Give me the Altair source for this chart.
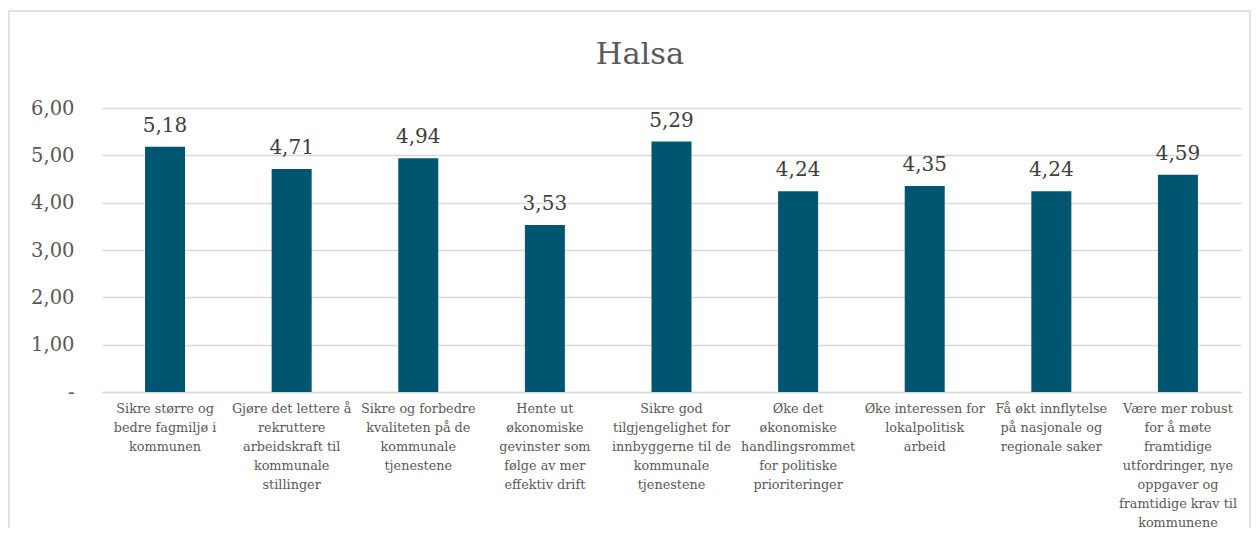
import altair as alt
import pandas as pd

title_text = "Halsa"
categories = [
    "Sikre større og|bedre fagmiljø i|kommunen",
    "Gjøre det lettere å|rekruttere|arbeidskraft til|kommunale|stillinger",
    "Sikre og forbedre|kvaliteten på de|kommunale|tjenestene",
    "Hente ut|økonomiske|gevinster som|følge av mer|effektiv drift",
    "Sikre god|tilgjengelighet for|innbyggerne til de|kommunale|tjenestene",
    "Øke det|økonomiske|handlingsrommet|for politiske|prioriteringer",
    "Øke interessen for|lokalpolitisk|arbeid",
    "Få økt innflytelse|på nasjonale og|regionale saker",
    "Være mer robust|for å møte|framtidige|utfordringer, nye|oppgaver og|framtidige krav til|kommunene",
]
values = [5.18, 4.71, 4.94, 3.53, 5.29, 4.24, 4.35, 4.24, 4.59]
value_labels = ["5,18", "4,71", "4,94", "3,53", "5,29", "4,24", "4,35", "4,24", "4,59"]

df = pd.DataFrame({"cat": categories, "val": values, "lab": value_labels})

FONT = "DejaVu Serif"
GRAY = "#595959"

x = alt.X("cat:N", sort=None, title=None,
          scale=alt.Scale(paddingInner=0.684, paddingOuter=0.34),
          axis=alt.Axis(labelExpr="split(datum.label, '|')", labelAngle=0,
                        labelFont=FONT, labelFontSize=12.8, labelColor=GRAY,
                        labelLineHeight=19, labelPadding=10, ticks=False,
                        domainColor="#d9d9d9", domainWidth=1.5,
                        labelLimit=200, labelBaseline="top"))
y = alt.Y("val:Q", title=None,
          scale=alt.Scale(domain=[0, 6]),
          axis=alt.Axis(values=[0, 1, 2, 3, 4, 5, 6],
                        labelExpr="datum.value == 0 ? '-' : replace(format(datum.value, '.2f'), '.', ',')",
                        labelFont=FONT, labelFontSize=19.5, labelColor=GRAY,
                        labelPadding=28, ticks=False, domain=False,
                        gridColor="#d9d9d9", gridWidth=1.5))

base = alt.Chart(df)
bars = base.mark_bar(color="#005670").encode(x=x, y=y)
text = base.mark_text(dy=-11, baseline="bottom", font=FONT, fontSize=20,
                      color="#404040").encode(x=x, y=y, text="lab:N")

border = alt.Chart(pd.DataFrame({"a": [0]})).mark_rect(
    fill=None, stroke="#d9d9d9", strokeWidth=1.5, clip=False
).encode(x=alt.value(-93), x2=alt.value(1148), y=alt.value(-97), y2=alt.value(600))

title = alt.Chart(pd.DataFrame({"t": [title_text]})).mark_text(
    font=FONT, fontSize=30.5, color=GRAY, baseline="middle", align="center"
).encode(x=alt.value(538), y=alt.value(-53), text="t:N")

chart = alt.layer(border, bars, text, title).properties(
    width=1139, height=284,
    autosize=alt.AutoSizeParams(type="none"),
    padding={"left": 94, "top": 100, "right": 10, "bottom": 136},
).configure_view(stroke=None)

chart.save("out.html", embed_options={"renderer": "svg", "actions": False})
